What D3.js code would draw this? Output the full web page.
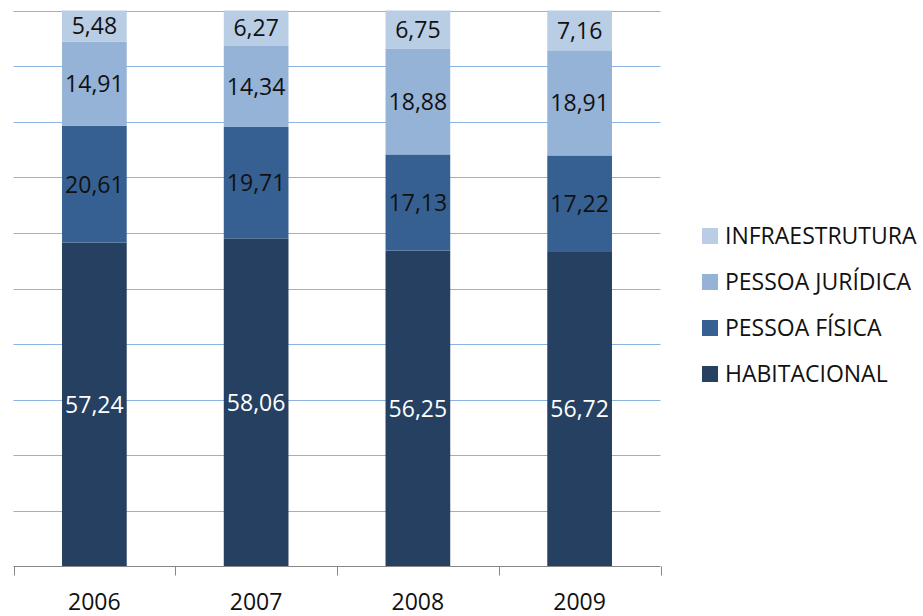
<!DOCTYPE html>
<html><head><meta charset="utf-8">
<script src="https://cdn.jsdelivr.net/npm/d3@7"></script>
<style>body{margin:0;background:#fff;} svg{display:block;}</style>
</head><body>
<svg id="c" width="923" height="616"></svg>
<script>
const years = ["2006","2007","2008","2009"];
const seriesNames = ["HABITACIONAL","PESSOA FÍSICA","PESSOA JURÍDICA","INFRAESTRUTURA"];
const habitacional = [57.24, 58.06, 56.25, 56.72];
const pessoaFisica = [20.61, 19.71, 17.13, 17.22];
const pessoaJuridica = [14.91, 14.34, 18.88, 18.91];
const infraestrutura = [5.48, 6.27, 6.75, 7.16];
const yTicks = [0,0.1,0.2,0.3,0.4,0.5,0.6,0.7,0.8,0.9,1];
const colors = ["#254061","#376092","#95B3D7","#B9CDE5"];
const labelColors = ["#ffffff","#111111","#111111","#111111"];

const seriesVals = [habitacional, pessoaFisica, pessoaJuridica, infraestrutura];
const rows = years.map((y,i)=>{const r={year:y}; seriesNames.forEach((s,k)=>r[s]=seriesVals[k][i]); return r;});
const stack = d3.stack().keys(seriesNames).offset(d3.stackOffsetExpand);
const layers = stack(rows);

const svg = d3.select("#c");
const L=13.5, R=660.5, T=10.5, B=566.5;
const x = d3.scaleBand().domain(years).range([L,R]).paddingInner(0.6).paddingOuter(0.3);
const y = d3.scaleLinear().domain([0,1]).range([B,T]);
const font = "'Open Sans', 'Noto Sans', sans-serif";

// gridlines
svg.append("g").selectAll("line").data(yTicks.slice(1)).join("line")
  .attr("x1",L).attr("x2",R).attr("y1",d=>Math.round(y(d))+0.5).attr("y2",d=>Math.round(y(d))+0.5)
  .attr("stroke","#8DB3E2").attr("stroke-width",1);

// bars
const g = svg.append("g");
layers.forEach((layer,k)=>{
  g.append("g").selectAll("rect").data(layer).join("rect")
    .attr("x",d=>x(d.data.year)).attr("width",x.bandwidth())
    .attr("y",d=>y(d[1])).attr("height",d=>y(d[0])-y(d[1]))
    .attr("fill",colors[k]);
});
layers.forEach((layer,k)=>{
  g.append("g").selectAll("text").data(layer).join("text")
    .attr("x",d=>x(d.data.year)+x.bandwidth()/2)
    .attr("y",d=>(y(d[0])+y(d[1]))/2)
    .attr("dy","0.36em")
    .attr("text-anchor","middle")
    .attr("font-family",font).attr("font-size",23)
    .attr("fill",labelColors[k])
    .text(d=>d3.format(".2f")(d.data[layer.key]).replace(".",","));
});

// x axis
const xEdges = d3.range(years.length+1).map(i=>L+i*(R-L)/years.length);
svg.append("line").attr("x1",L).attr("x2",R).attr("y1",B).attr("y2",B).attr("stroke","#868686").attr("stroke-width",1);
svg.append("g").selectAll("line").data(xEdges).join("line")
  .attr("x1",d=>Math.round(d)+0.5).attr("x2",d=>Math.round(d)+0.5).attr("y1",B).attr("y2",B+9)
  .attr("stroke","#868686");
svg.append("g").selectAll("text").data(years).join("text")
  .attr("x",d=>x(d)+x.bandwidth()/2).attr("y",610)
  .attr("text-anchor","middle").attr("font-family",font).attr("font-size",23).attr("fill","#111")
  .text(d=>d);

// legend
const legendOrder = [3,2,1,0];
const lg = svg.append("g");
legendOrder.forEach((k,i)=>{
  const cy = 236 + i*46;
  lg.append("rect").attr("x",702).attr("y",cy-8).attr("width",16).attr("height",16).attr("fill",colors[k]);
  lg.append("text").attr("x",725).attr("y",cy).attr("dy","0.36em")
    .attr("font-family",font).attr("font-size",23).attr("fill","#111").text(seriesNames[k]);
});
</script>
</body></html>
